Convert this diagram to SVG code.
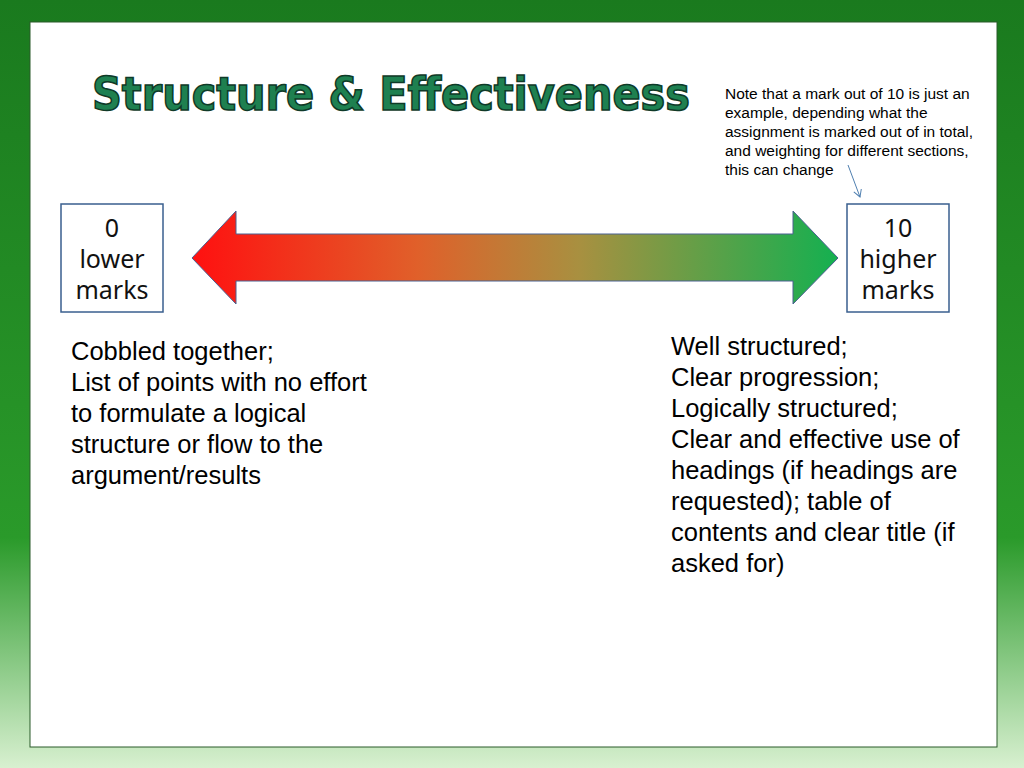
<svg xmlns="http://www.w3.org/2000/svg" width="1024" height="768" viewBox="0 0 1024 768">
<defs>
<linearGradient id="bg" x1="0" y1="0" x2="0" y2="1">
<stop offset="0" stop-color="#1a7a1e"/><stop offset="0.7" stop-color="#2a9a2a"/><stop offset="1" stop-color="#d8f0d0"/>
</linearGradient>
<linearGradient id="arr" x1="0" y1="0" x2="1" y2="0">
<stop offset="0" stop-color="#ff1010"/><stop offset="0.35" stop-color="#e0602a"/><stop offset="0.6" stop-color="#a89040"/><stop offset="1" stop-color="#14b050"/>
</linearGradient>
<marker id="ah" markerWidth="10" markerHeight="10" refX="8" refY="5" orient="auto" markerUnits="userSpaceOnUse"><path d="M1,1 L8,5 L1,9" fill="none" stroke="#4f7fb0" stroke-width="1"/></marker>
<style>
.box{fill:#fff;stroke:#3a5f8f;stroke-width:1.5}
.bl{font-family:"Noto Sans","DejaVu Sans",sans-serif;font-size:25px;fill:#111;text-anchor:middle}
.tx{font-family:"Liberation Sans",Arial,sans-serif;font-size:25.5px;fill:#000}
.nt{font-family:"Liberation Sans",Arial,sans-serif;font-size:15.5px;fill:#000}
</style>
</defs>
<rect width="1024" height="768" fill="url(#bg)"/>
<rect x="30" y="22" width="967" height="725" fill="#fff" stroke="#2a5a2a" stroke-width="1"/>
<text x="92" y="110" font-family="'DejaVu Sans Condensed','DejaVu Sans',sans-serif" font-weight="bold" font-size="46" fill="#1e8050" stroke="#0f3a28" stroke-width="1.5" textLength="598" lengthAdjust="spacingAndGlyphs">Structure &amp; Effectiveness</text>
<g id="note"><text class="nt"><tspan x="725" y="99">Note that a mark out of 10 is just an</tspan><tspan x="725" y="118">example, depending what the</tspan><tspan x="725" y="137">assignment is marked out of in total,</tspan><tspan x="725" y="156">and weighting for different sections,</tspan><tspan x="725" y="175">this can change</tspan></text></g>
<g id="connectors"><line x1="848" y1="165" x2="860" y2="197" stroke="#4f7fb0" stroke-width="1" marker-end="url(#ah)"/></g>
<g id="arrow"><path d="M192,258 L236,211 L236,234 L793,234 L793,211 L838,258 L793,304 L793,281 L236,281 L236,304 Z" fill="url(#arr)" stroke="#4a6090" stroke-width="1"/></g>
<g id="low"><rect class="box" x="61" y="204" width="102" height="108"/><text class="bl"><tspan x="112" y="237">0</tspan><tspan x="112" y="268">lower</tspan><tspan x="112" y="299">marks</tspan></text></g>
<g id="high"><rect class="box" x="847" y="204" width="102" height="108"/><text class="bl"><tspan x="898" y="237">10</tspan><tspan x="898" y="268">higher</tspan><tspan x="898" y="299">marks</tspan></text></g>
<g id="left-text"><text class="tx"><tspan x="71" y="360">Cobbled together;</tspan><tspan x="71" y="391">List of points with no effort</tspan><tspan x="71" y="422">to formulate a logical</tspan><tspan x="71" y="453">structure or flow to the</tspan><tspan x="71" y="484">argument/results</tspan></text></g>
<g id="right-text"><text class="tx"><tspan x="671" y="355">Well structured;</tspan><tspan x="671" y="386">Clear progression;</tspan><tspan x="671" y="417">Logically structured;</tspan><tspan x="671" y="448">Clear and effective use of</tspan><tspan x="671" y="479">headings (if headings are</tspan><tspan x="671" y="510">requested); table of</tspan><tspan x="671" y="541">contents and clear title (if</tspan><tspan x="671" y="572">asked for)</tspan></text></g>
</svg>
